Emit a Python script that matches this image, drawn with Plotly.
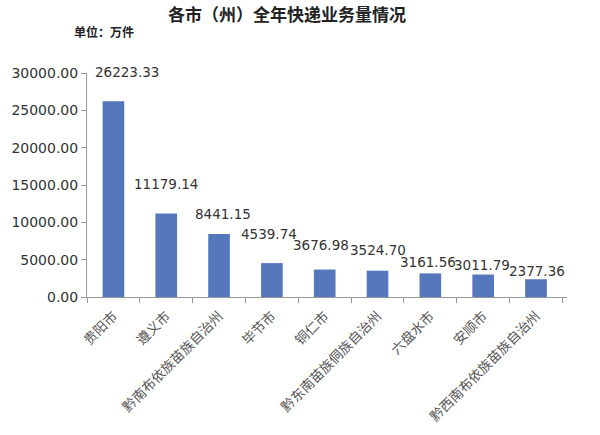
import plotly.graph_objects as go

categories = ["贵阳市", "遵义市", "黔南布依族苗族自治州", "毕节市", "铜仁市",
              "黔东南苗族侗族自治州", "六盘水市", "安顺市", "黔西南布依族苗族自治州"]
values = [26223.33, 11179.14, 8441.15, 4539.74, 3676.98, 3524.70, 3161.56, 3011.79, 2377.36]
y_ticks = [0, 5000, 10000, 15000, 20000, 25000, 30000]

# label pixel offsets above bars (style only)
label_shift = [28, 29, 19, 28, 24, 20, 10, 9, 7]
label_xshift = [14, 0, 4, -3, -4, 0, -2, -1, 1]

fig = go.Figure()
fig.add_trace(go.Bar(x=categories, y=values, marker=dict(color="#5578bd", line_width=0),
                     width=0.41, hoverinfo="x+y"))

for c, v, s, xs in zip(categories, values, label_shift, label_xshift):
    fig.add_annotation(x=c, y=v, text=f"{v:.2f}", showarrow=False, yanchor="bottom",
                       yshift=s - 9, xshift=xs,
                       font=dict(family="DejaVu Sans", size=13.5, color="#333333"))

fig.add_annotation(xref="paper", yref="paper", x=0.5, y=1, xanchor="center", yanchor="bottom",
                   text="<b>各市（州）全年快递业务量情况</b>", showarrow=False, yshift=45,
                   xshift=-40,
                   font=dict(family="Noto Sans CJK SC", size=17, color="#222222"))
fig.add_annotation(xref="paper", yref="paper", x=0, y=1, xanchor="left", yanchor="bottom",
                   text="<b>单位：万件</b>", showarrow=False, yshift=31, xshift=-15,
                   font=dict(family="Noto Sans CJK SC", size=12, color="#222222"))

fig.update_layout(
    width=600, height=435,
    margin=dict(l=87, r=33, t=73, b=138, autoexpand=False),
    paper_bgcolor="white", plot_bgcolor="white",
    showlegend=False,
    xaxis=dict(type="category", tickangle=-45, ticks="outside", tickson="boundaries",
               ticklen=5, tickcolor="#999999", showline=True, linecolor="#999999",
               linewidth=1, showgrid=False, ticklabelstandoff=5, automargin=False,
               tickfont=dict(family="Noto Sans CJK SC", size=13.5, color="#555555")),
    yaxis=dict(range=[0, 30000], tickvals=y_ticks, tickformat=".2f", ticks="outside",
               ticklen=5, tickcolor="#999999", showline=True, linecolor="#999999",
               linewidth=1, showgrid=False, zeroline=False, automargin=False,
               tickfont=dict(family="DejaVu Sans", size=14, color="#333333")),
)

fig.write_html("out.html")
